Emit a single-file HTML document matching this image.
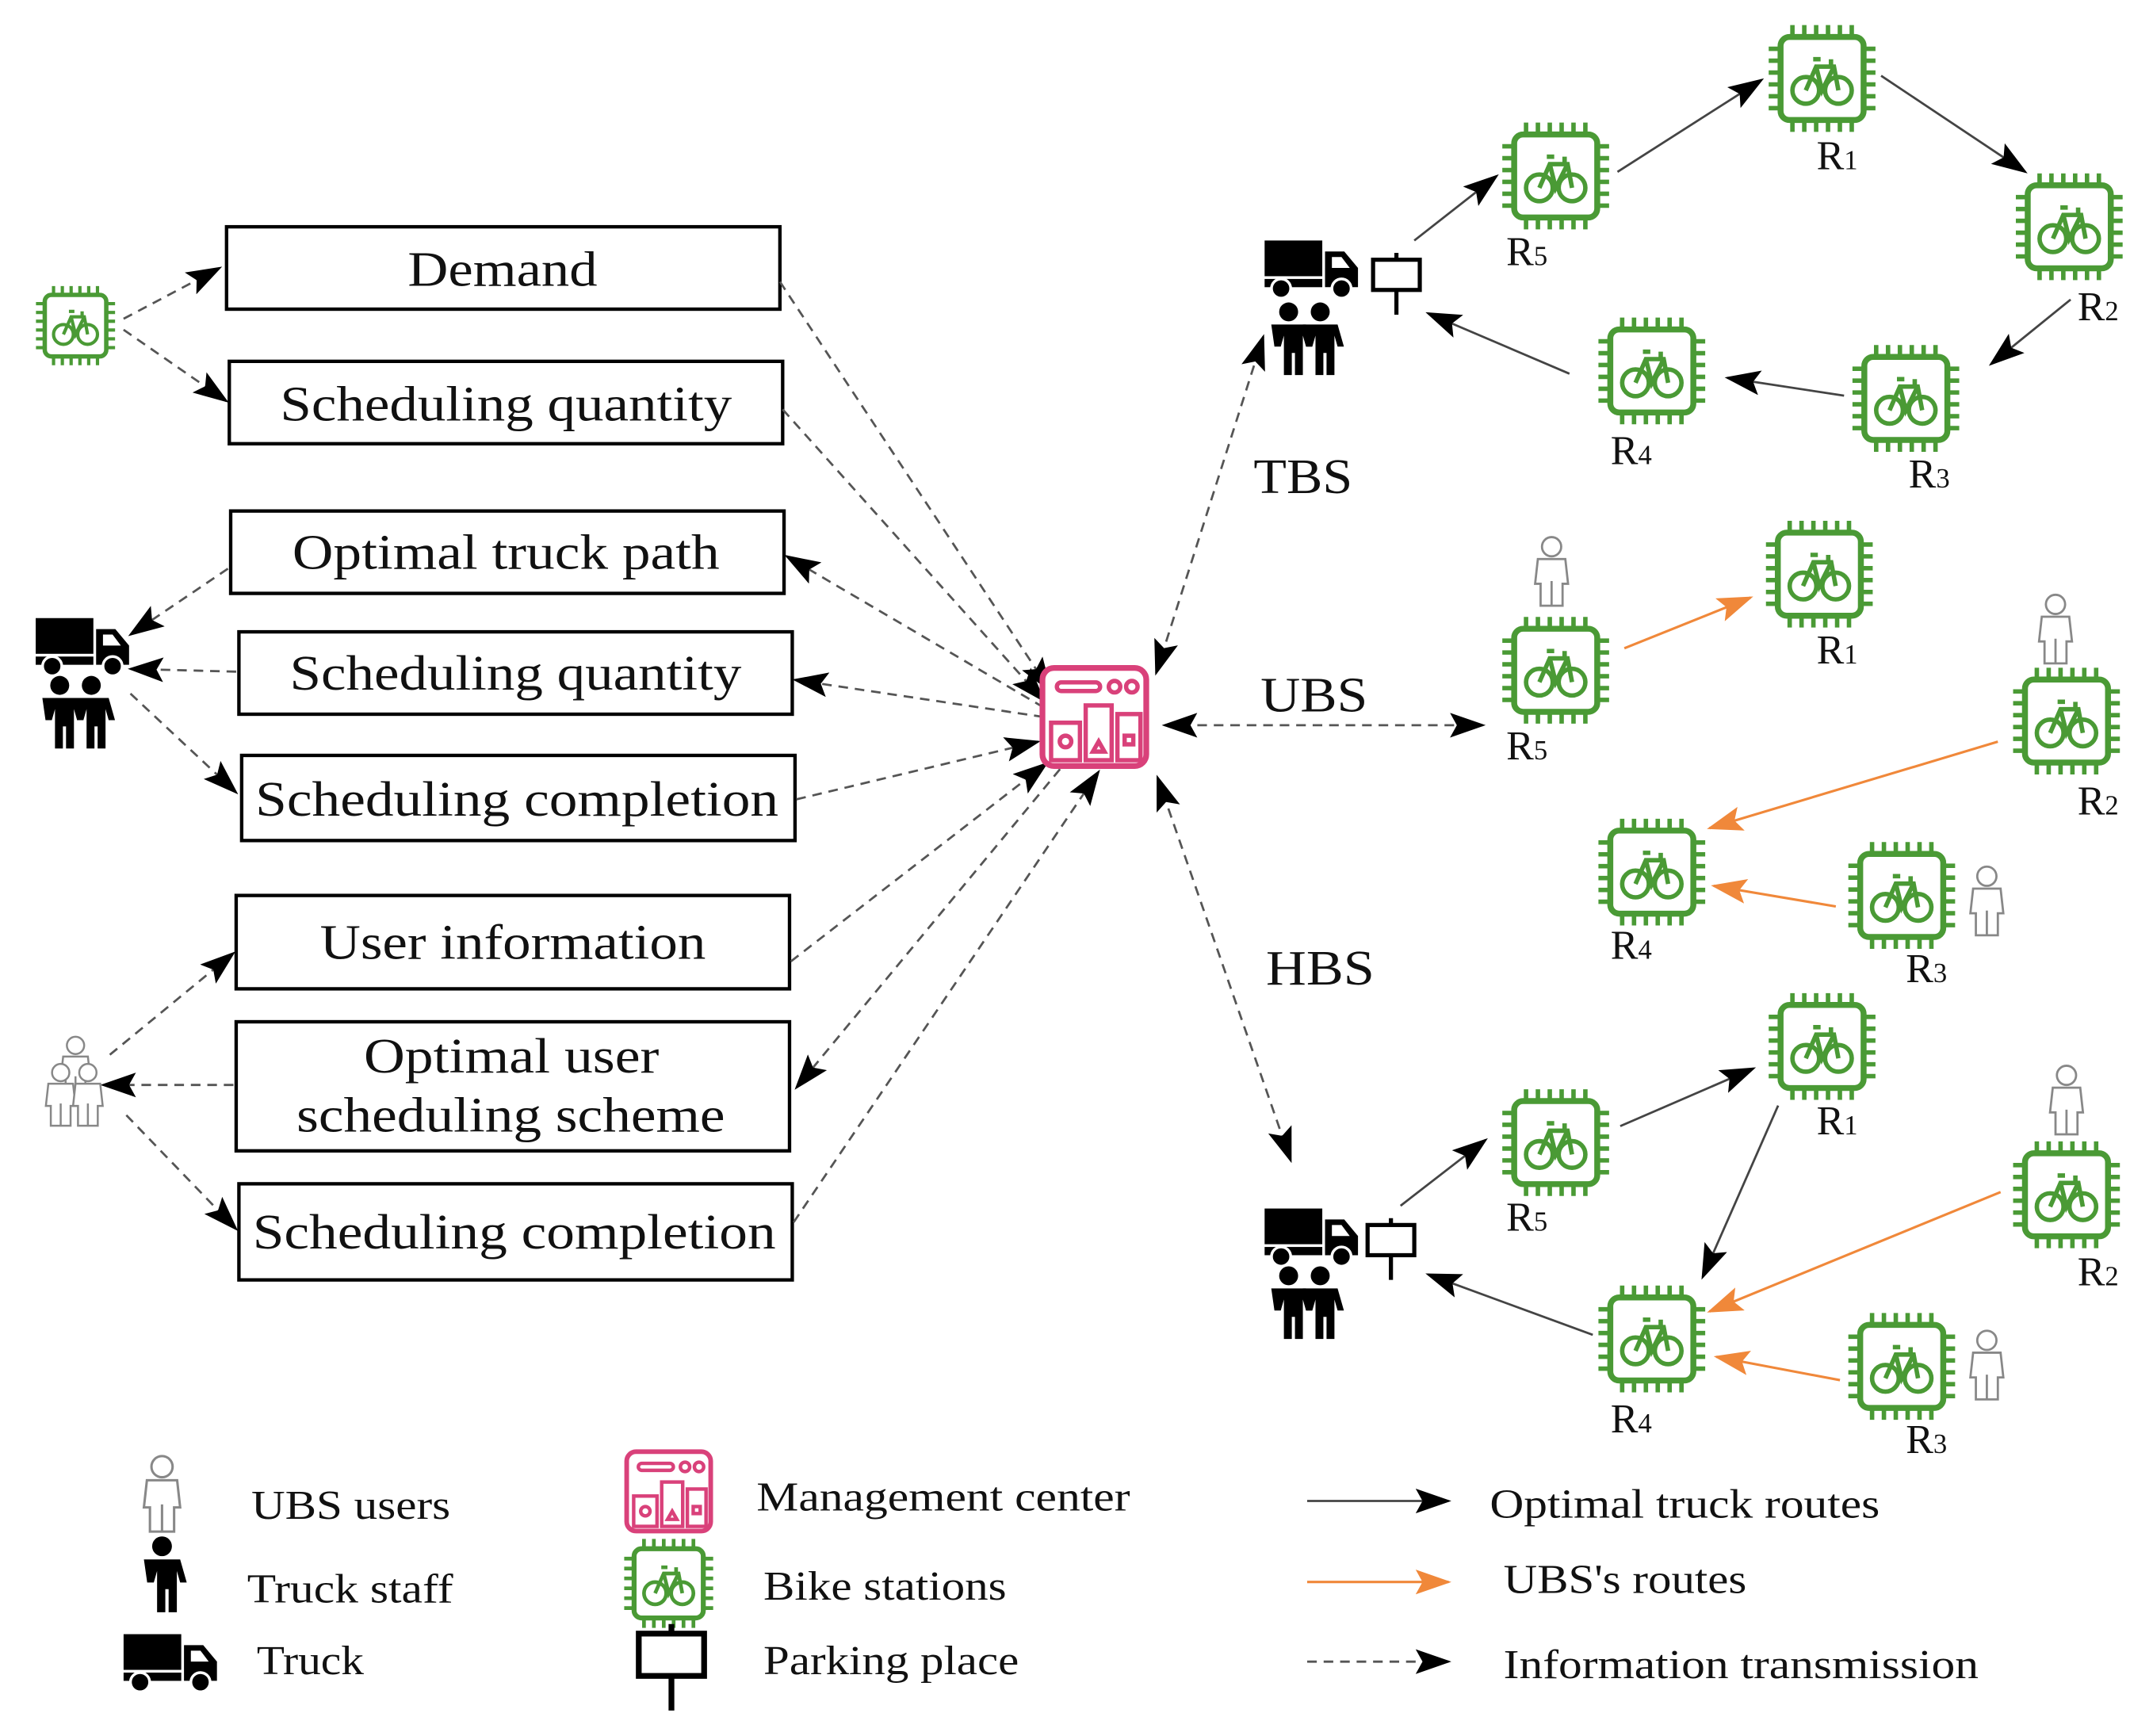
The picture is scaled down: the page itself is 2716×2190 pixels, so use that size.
<!DOCTYPE html>
<html><head><meta charset="utf-8"><style>
html,body{margin:0;padding:0;background:#fff;}
svg{display:block;}
text{font-family:"Liberation Serif",serif;fill:#111;}
</style></head><body>
<svg width="2716" height="2190" viewBox="0 0 1568 1264" xmlns="http://www.w3.org/2000/svg">
<defs>
<marker id="ab" markerUnits="userSpaceOnUse" markerWidth="26" markerHeight="18" refX="24" refY="9" orient="auto"><path d="M0,0 L26,9 L0,18 L5,9 Z" fill="#000"/></marker>
<marker id="as" markerUnits="userSpaceOnUse" markerWidth="26" markerHeight="18" refX="2" refY="9" orient="auto"><path d="M26,0 L0,9 L26,18 L21,9 Z" fill="#000"/></marker>
<marker id="ao" markerUnits="userSpaceOnUse" markerWidth="26" markerHeight="18" refX="24" refY="9" orient="auto"><path d="M0,0 L26,9 L0,18 L5,9 Z" fill="#f0883a"/></marker>
<g id="st0">
<rect x="-28" y="-28" width="56" height="56" rx="6" fill="#fff" stroke="#4a9a35" stroke-width="4"/>
<g stroke="#4a9a35" stroke-width="3">
<path d="M-20,-28v-8M-12,-28v-8M-4,-28v-8M4,-28v-8M12,-28v-8M20,-28v-8"/>
<path d="M-20,28v8M-12,28v8M-4,28v8M4,28v8M12,28v8M20,28v8"/>
<path d="M-28,-20h-8M-28,-12h-8M-28,-4h-8M-28,4h-8M-28,12h-8M-28,20h-8"/>
<path d="M28,-20h8M28,-12h8M28,-4h8M28,4h8M28,12h8M28,20h8"/>
</g>
<g fill="none" stroke="#4a9a35" stroke-width="3">
<circle cx="-11" cy="8" r="9"/><circle cx="11" cy="8" r="9"/>
<path d="M-11,8 L-4,-8 L8,-8 L11,8 M-4,-8 L0,8 L8,-8 M-6,-13h5 M6,-13v5"/>
</g>
</g>
<g id="st"><use href="#st0" transform="scale(1.08)"/></g>
<g id="mc">
<rect x="-36" y="-34" width="72" height="68" rx="8" fill="#fff" stroke="#d9417a" stroke-width="4"/>
<g fill="none" stroke="#d9417a" stroke-width="3">
<rect x="-26" y="-24" width="30" height="6" rx="3"/><circle cx="14" cy="-21" r="4"/><circle cx="26" cy="-21" r="4"/>
<rect x="-30" y="4" width="20" height="26"/><rect x="-6" y="-8" width="18" height="38"/><rect x="16" y="-2" width="16" height="32"/>
<circle cx="-20" cy="17" r="4"/><path d="M-1,24 L3,17 L7,24Z"/><rect x="21" y="13" width="6" height="6"/>
</g>
</g>
<g id="tr">
<rect x="-34" y="-20" width="42" height="26" fill="#000"/>
<rect x="-34" y="8" width="42" height="6" fill="#000"/>
<path d="M10,-12 h14 l10,12 v14 h-24z" fill="#000"/>
<path d="M15,-8 h7 l6,8 h-13z" fill="#fff"/>
<circle cx="-22" cy="15" r="7" fill="#000" stroke="#fff" stroke-width="2"/>
<circle cx="22" cy="15" r="7" fill="#000" stroke="#fff" stroke-width="2"/>
</g>
<g id="pp">
<circle cx="0" cy="-20" r="6" fill="#000"/>
<path d="M-11,-12 h22 l4,14 h-4 l-2,-7 v25 h-5 v-14 h-2 v14 h-5 v-25 l-2,7 h-4z" fill="#000"/>
</g>
<g id="staff"><use href="#pp" x="-10" transform="scale(1)"/><use href="#pp" x="10"/></g>
<g id="up" fill="#fff" stroke="#888" stroke-width="1.6">
<ellipse cx="0" cy="-20" rx="7" ry="7"/>
<path d="M-10,-11 h20 l2,18 h-4 v16 h-16 v-16 h-4z"/>
<path d="M0,5 v18"/>
</g>
<g id="pk">
<rect x="-17" y="-11" width="34" height="22" fill="#fff" stroke="#000" stroke-width="3"/>
<path d="M0,-16 v5 M0,11 v18" stroke="#000" stroke-width="3"/>
</g>
</defs>

<g fill="#fff" stroke="#000" stroke-width="2.5">
<rect x="165" y="165" width="403" height="60"/>
<rect x="167" y="263" width="403" height="60"/>
<rect x="168" y="372" width="403" height="60"/>
<rect x="174" y="460" width="403" height="60"/>
<rect x="176" y="550" width="403" height="62"/>
<rect x="172" y="652" width="403" height="68"/>
<rect x="172" y="744" width="403" height="94"/>
<rect x="174" y="862" width="403" height="70"/>
</g>
<g font-size="36" lengthAdjust="spacingAndGlyphs">
<text x="297" y="208" textLength="138" lengthAdjust="spacingAndGlyphs">Demand</text>
<text x="204" y="306" textLength="329" lengthAdjust="spacingAndGlyphs">Scheduling quantity</text>
<text x="213" y="414" textLength="311" lengthAdjust="spacingAndGlyphs">Optimal truck path</text>
<text x="211" y="502" textLength="329" lengthAdjust="spacingAndGlyphs">Scheduling quantity</text>
<text x="186" y="594" textLength="381" lengthAdjust="spacingAndGlyphs">Scheduling completion</text>
<text x="233" y="698" textLength="281" lengthAdjust="spacingAndGlyphs">User information</text>
<text x="265" y="781" textLength="215" lengthAdjust="spacingAndGlyphs">Optimal user</text>
<text x="216" y="824" textLength="312" lengthAdjust="spacingAndGlyphs">scheduling scheme</text>
<text x="184" y="909" textLength="381" lengthAdjust="spacingAndGlyphs">Scheduling completion</text>
</g>

<g stroke="#555" stroke-width="1.6" stroke-dasharray="7,5" fill="none">
<line x1="90" y1="232" x2="160" y2="195" marker-end="url(#ab)"/>
<line x1="90" y1="240" x2="165" y2="292" marker-end="url(#ab)"/>
<line x1="166" y1="414" x2="95" y2="462" marker-end="url(#ab)"/>
<line x1="172" y1="489" x2="95" y2="487" marker-end="url(#ab)"/>
<line x1="95" y1="505" x2="172" y2="577" marker-end="url(#ab)"/>
<line x1="80" y1="768" x2="170" y2="694" marker-end="url(#ab)"/>
<line x1="170" y1="790" x2="75" y2="790" marker-end="url(#ab)"/>
<line x1="92" y1="812" x2="172" y2="895" marker-end="url(#ab)"/>
<line x1="568" y1="205" x2="765" y2="503" marker-end="url(#ab)"/>
<line x1="570" y1="298" x2="760" y2="510" marker-end="url(#ab)"/>
<line x1="760" y1="515" x2="573" y2="405" marker-end="url(#ab)"/>
<line x1="760" y1="522" x2="579" y2="495" marker-end="url(#ab)"/>
<line x1="580" y1="582" x2="756" y2="540" marker-end="url(#ab)"/>
<line x1="576" y1="700" x2="762" y2="556" marker-end="url(#ab)"/>
<line x1="772" y1="560" x2="580" y2="792" marker-end="url(#ab)"/>
<line x1="578" y1="890" x2="800" y2="562" marker-end="url(#ab)"/>
<line x1="842" y1="490" x2="920" y2="245" marker-start="url(#as)" marker-end="url(#ab)"/>
<line x1="848" y1="528" x2="1080" y2="528" marker-start="url(#as)" marker-end="url(#ab)"/>
<line x1="843" y1="566" x2="940" y2="845" marker-start="url(#as)" marker-end="url(#ab)"/>
<line x1="952" y1="1210" x2="1055" y2="1210" marker-end="url(#ab)"/>
</g>

<g stroke="#444" stroke-width="1.6" fill="none">
<line x1="1030" y1="175" x2="1090" y2="128" marker-end="url(#ab)"/>
<line x1="1178" y1="125" x2="1283" y2="58" marker-end="url(#ab)"/>
<line x1="1370" y1="55" x2="1475" y2="125" marker-end="url(#ab)"/>
<line x1="1508" y1="218" x2="1450" y2="265" marker-end="url(#ab)"/>
<line x1="1343" y1="288" x2="1258" y2="275" marker-end="url(#ab)"/>
<line x1="1143" y1="272" x2="1040" y2="228" marker-end="url(#ab)"/>
<line x1="1020" y1="878" x2="1082" y2="830" marker-end="url(#ab)"/>
<line x1="1180" y1="820" x2="1277" y2="778" marker-end="url(#ab)"/>
<line x1="1295" y1="805" x2="1240" y2="930" marker-end="url(#ab)"/>
<line x1="1160" y1="972" x2="1040" y2="928" marker-end="url(#ab)"/>
<line x1="952" y1="1093" x2="1055" y2="1093" marker-end="url(#ab)"/>
</g>
<g stroke="#f0883a" stroke-width="1.8" fill="none">
<line x1="1183" y1="472" x2="1275" y2="435" marker-end="url(#ao)"/>
<line x1="1455" y1="540" x2="1245" y2="603" marker-end="url(#ao)"/>
<line x1="1337" y1="660" x2="1248" y2="645" marker-end="url(#ao)"/>
<line x1="1457" y1="868" x2="1245" y2="955" marker-end="url(#ao)"/>
<line x1="1340" y1="1005" x2="1250" y2="988" marker-end="url(#ao)"/>
<line x1="952" y1="1152" x2="1055" y2="1152" marker-end="url(#ao)"/>
</g>

<use href="#st0" transform="translate(55,237) scale(0.8)"/>
<use href="#mc" transform="translate(797,522) scale(1.05)"/>
<use href="#tr" x="60" y="470"/>
<use href="#staff" transform="translate(55,522) scale(1.15)"/>
<g transform="translate(55,790) scale(0.9)"><use href="#up" x="0" y="-12"/><use href="#up" x="-12" y="10"/><use href="#up" x="10" y="10"/></g>

<use href="#tr" x="955" y="195"/><use href="#staff" transform="translate(950,250) scale(1.15)"/><use href="#pk" x="1017" y="200"/>
<use href="#tr" x="955" y="900"/><use href="#staff" transform="translate(950,952) scale(1.15)"/><use href="#pk" x="1013" y="903"/>

<use href="#st" x="1133" y="128"/><use href="#st" x="1327" y="57"/><use href="#st" x="1507" y="165"/><use href="#st" x="1388" y="290"/><use href="#st" x="1203" y="270"/>
<use href="#st" x="1133" y="488"/><use href="#st" x="1325" y="418"/><use href="#st" x="1505" y="525"/><use href="#st" x="1203" y="635"/><use href="#st" x="1385" y="652"/>
<use href="#st" x="1133" y="832"/><use href="#st" x="1327" y="762"/><use href="#st" x="1505" y="870"/><use href="#st" x="1203" y="975"/><use href="#st" x="1385" y="995"/>
<use href="#up" x="1130" y="418"/><use href="#up" x="1497" y="460"/><use href="#up" x="1447" y="658"/>
<use href="#up" x="1505" y="803"/><use href="#up" x="1447" y="996"/>

<g font-size="30">
<text x="1097" y="193">R<tspan font-size="20">5</tspan></text>
<text x="1323" y="123">R<tspan font-size="20">1</tspan></text>
<text x="1513" y="233">R<tspan font-size="20">2</tspan></text>
<text x="1390" y="355">R<tspan font-size="20">3</tspan></text>
<text x="1173" y="338">R<tspan font-size="20">4</tspan></text>
<text x="1097" y="553">R<tspan font-size="20">5</tspan></text>
<text x="1323" y="483">R<tspan font-size="20">1</tspan></text>
<text x="1513" y="593">R<tspan font-size="20">2</tspan></text>
<text x="1388" y="715">R<tspan font-size="20">3</tspan></text>
<text x="1173" y="698">R<tspan font-size="20">4</tspan></text>
<text x="1097" y="896">R<tspan font-size="20">5</tspan></text>
<text x="1323" y="826">R<tspan font-size="20">1</tspan></text>
<text x="1513" y="936">R<tspan font-size="20">2</tspan></text>
<text x="1388" y="1058">R<tspan font-size="20">3</tspan></text>
<text x="1173" y="1043">R<tspan font-size="20">4</tspan></text>
</g>
<g font-size="36">
<text x="913" y="359" textLength="72" lengthAdjust="spacingAndGlyphs">TBS</text>
<text x="918" y="518" textLength="78" lengthAdjust="spacingAndGlyphs">UBS</text>
<text x="922" y="717" textLength="79" lengthAdjust="spacingAndGlyphs">HBS</text>
</g>

<use href="#up" transform="translate(118,1090) scale(1.1)"/>
<use href="#pp" transform="translate(118,1150) scale(1.2)"/>
<use href="#tr" x="124" y="1210"/>
<use href="#mc" transform="translate(487,1086) scale(0.85)"/>
<use href="#st0" transform="translate(487,1153) scale(0.9)"/>
<use href="#pk" transform="translate(489,1205) scale(1.4)"/>
<g font-size="30">
<text x="183" y="1106" textLength="145" lengthAdjust="spacingAndGlyphs">UBS users</text>
<text x="180" y="1167" textLength="150" lengthAdjust="spacingAndGlyphs">Truck staff</text>
<text x="187" y="1219" textLength="78" lengthAdjust="spacingAndGlyphs">Truck</text>
<text x="551" y="1100" textLength="272" lengthAdjust="spacingAndGlyphs">Management center</text>
<text x="556" y="1165" textLength="177" lengthAdjust="spacingAndGlyphs">Bike stations</text>
<text x="556" y="1219" textLength="186" lengthAdjust="spacingAndGlyphs">Parking place</text>
<text x="1085" y="1105" textLength="284" lengthAdjust="spacingAndGlyphs">Optimal truck routes</text>
<text x="1095" y="1160" textLength="177" lengthAdjust="spacingAndGlyphs">UBS's routes</text>
<text x="1095" y="1222" textLength="346" lengthAdjust="spacingAndGlyphs">Information transmission</text>
</g>
</svg>
</body></html>
